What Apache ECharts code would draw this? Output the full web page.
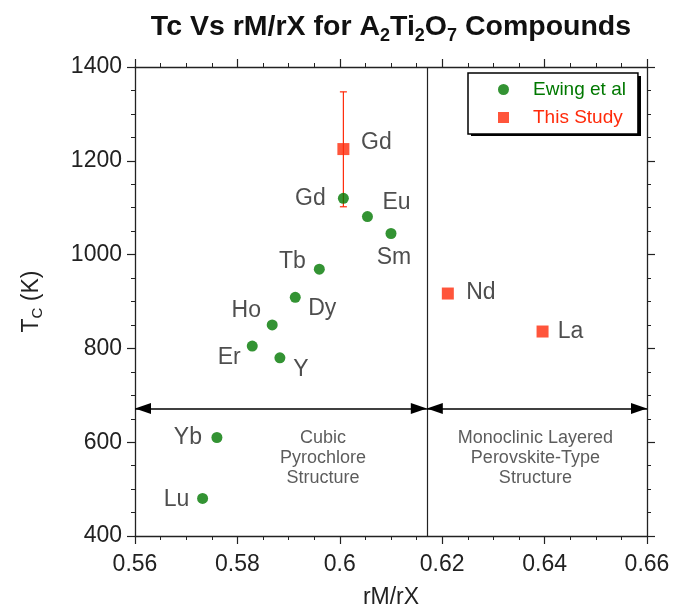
<!DOCTYPE html>
<html>
<head>
<meta charset="utf-8">
<script src="https://cdn.jsdelivr.net/npm/echarts@6/dist/echarts.min.js"></script>
<style>
  html, body { margin: 0; padding: 0; background: #fff; }
  #chart { width: 674px; height: 606px; }
</style>
</head>
<body>
<div id="chart"></div>
<script>
// Ewing et al (green circles)
var ewingNames = ['Gd', 'Eu', 'Sm', 'Tb', 'Dy', 'Ho', 'Er', 'Y', 'Yb', 'Lu'];
var ewingRatio = [0.6007, 0.6054, 0.6100, 0.5960, 0.5913, 0.5868, 0.5829, 0.5883, 0.5760, 0.5732];
var ewingTc = [1120, 1081, 1045, 969, 909, 850, 805, 780, 610, 480];

// This study (red squares)
var studyNames = ['Gd', 'Nd', 'La'];
var studyRatio = [0.6007, 0.6211, 0.6396];
var studyTc = [1225, 917, 836];

// error bar on this study's Gd point
var errRatio = [0.6007];
var errLow = [1102];
var errHigh = [1347];

// phase boundary and the arrow level
var boundaryRatio = 0.617;
var arrowTc = 672;
var xMin = 0.56, xMax = 0.66, xStep = 0.02;
var yMin = 400, yMax = 1400, yStep = 200;

var regionText = ['Cubic\nPyrochlore\nStructure', 'Monoclinic Layered\nPerovskite-Type\nStructure'];
var regionRatio = [0.5967, 0.6382];
var regionTc = [567, 567];

// label offsets (pixels, from point centre to text centre)
var ewingLabelOff = {
  Gd: [-33, 0], Eu: [29, -14], Sm: [3, 24], Tb: [-27, -7], Dy: [27, 11],
  Ho: [-26, -14], Er: [-23, 12], Y: [21, 12], Yb: [-29, 0], Lu: [-26, 1]
};
var studyLabelOff = { Gd: [33, -6], Nd: [33, -1], La: [28, 0] };

var GREEN = '#007800';
var RED = '#ff2a0a';
var FONT = 'Liberation Sans';

var chart = echarts.init(document.getElementById('chart'));

function axisBase(pos, showLabel, isX) {
  return {
    type: 'value',
    position: pos,
    min: isX ? xMin : yMin,
    max: isX ? xMax : yMax,
    interval: isX ? xStep : yStep,
    splitLine: { show: false },
    axisLine: { show: true, onZero: false, lineStyle: { color: '#222', width: 1.3 } },
    axisTick: { show: true, inside: false, length: 8, lineStyle: { color: '#222', width: 1.2 } },
    minorTick: { show: true, splitNumber: 4, length: 4, lineStyle: { color: '#222', width: 1 } },
    axisLabel: {
      show: showLabel, color: '#222', fontFamily: FONT, fontSize: 23,
      margin: isX ? 17 : 13,
      formatter: function (v) { return String(+v.toFixed(4)); }
    }
  };
}

var xBottom = axisBase('bottom', true, true);
xBottom.name = 'rM/rX';
xBottom.nameLocation = 'middle';
xBottom.nameGap = 50;
xBottom.nameTextStyle = { color: '#222', fontFamily: FONT, fontSize: 23 };

var yLeft = axisBase('left', true, false);
yLeft.name = '{a|T}{s|C}{a| (K)}';
yLeft.nameLocation = 'middle';
yLeft.nameRotate = 90;
yLeft.nameGap = 90;
yLeft.nameTextStyle = {
  rich: {
    a: { color: '#222', fontFamily: FONT, fontSize: 23 },
    s: { color: '#222', fontFamily: FONT, fontSize: 15, padding: [12, 0, 0, 0] }
  }
};

var xTop = axisBase('top', false, true);
var yRight = axisBase('right', false, false);

function pts(xs, ys, names, offs) {
  return xs.map(function (x, i) {
    return {
      name: names[i],
      value: [x, ys[i]],
      label: { offset: offs[names[i]] }
    };
  });
}

var option = {
  animation: false,
  backgroundColor: '#fff',
  title: {
    text: '{a|Tc Vs rM/rX for A}{s|2}{a|Ti}{s|2}{a|O}{s|7}{a| Compounds}',
    left: 386,
    top: 4,
    textAlign: 'center',
    textStyle: {
      rich: {
        a: { fontFamily: FONT, fontWeight: 'bold', fontSize: 28.5, color: '#111' },
        s: { fontFamily: FONT, fontWeight: 'bold', fontSize: 18, color: '#111', padding: [18, 0, 0, 0] }
      }
    }
  },
  grid: { left: 135, right: 27, top: 67, bottom: 70, containLabel: false, outerBoundsMode: 'none' },
  graphic: [
    { type: 'rect', z: 3, shape: { x: 471, y: 76, width: 170, height: 60 }, style: { fill: '#000' } }
  ],
  legend: {
    orient: 'vertical',
    left: 468,
    top: 73,
    padding: [7, 12, 7, 30],
    itemGap: 9,
    itemWidth: 11,
    itemHeight: 11,
    backgroundColor: '#fff',
    borderColor: '#000',
    borderWidth: 1.5,
    borderRadius: 0,
    textStyle: { fontFamily: FONT, fontSize: 19, padding: [0, 0, 0, 19] },
    data: [
      { name: 'Ewing et al', icon: 'circle', textStyle: { color: GREEN } },
      { name: 'This Study', icon: 'rect', textStyle: { color: RED } }
    ]
  },
  xAxis: [xBottom, xTop],
  yAxis: [yLeft, yRight],
  series: [
    {
      name: 'boundary',
      type: 'line',
      data: [],
      silent: true,
      markLine: {
        silent: true,
        animation: false,
        label: { show: false },
        lineStyle: { color: '#222', width: 1.2, type: 'solid' },
        symbol: ['none', 'none'],
        data: [
          [{ coord: [boundaryRatio, yMin] }, { coord: [boundaryRatio, yMax] }]
        ]
      }
    },
    {
      name: 'arrows',
      type: 'line',
      data: [],
      silent: true,
      markLine: {
        silent: true,
        animation: false,
        label: { show: false },
        lineStyle: { color: '#000', width: 1.6, type: 'solid' },
        symbol: ['triangle', 'triangle'],
        symbolSize: [11, 16],
        symbolOffset: [[0, 8], [0, 8]],
        data: [
          [{ coord: [xMin, arrowTc] }, { coord: [boundaryRatio, arrowTc] }],
          [{ coord: [boundaryRatio, arrowTc] }, { coord: [xMax, arrowTc] }]
        ]
      }
    },
    {
      name: 'regions',
      type: 'scatter',
      silent: true,
      symbolSize: 0,
      data: regionRatio.map(function (x, i) { return { value: [x, regionTc[i]], text: regionText[i] }; }),
      label: {
        show: true,
        position: 'inside',
        formatter: function (p) { return p.data.text; },
        fontFamily: FONT,
        fontSize: 18,
        lineHeight: 20,
        color: '#333',
        align: 'center'
      }
    },
    {
      name: 'errorbar',
      type: 'custom',
      silent: true,
      z: 1,
      data: errRatio.map(function (x, i) { return [x, errLow[i], errHigh[i]]; }),
      renderItem: function (params, api) {
        var lo = api.coord([api.value(0), api.value(1)]);
        var hi = api.coord([api.value(0), api.value(2)]);
        var cap = 3.5;
        var st = { stroke: RED, lineWidth: 1.2 };
        return {
          type: 'group',
          children: [
            { type: 'line', shape: { x1: lo[0], y1: lo[1], x2: hi[0], y2: hi[1] }, style: st },
            { type: 'line', shape: { x1: lo[0] - cap, y1: lo[1], x2: lo[0] + cap, y2: lo[1] }, style: st },
            { type: 'line', shape: { x1: hi[0] - cap, y1: hi[1], x2: hi[0] + cap, y2: hi[1] }, style: st }
          ]
        };
      }
    },
    {
      name: 'Ewing et al',
      type: 'scatter',
      symbol: 'circle',
      symbolSize: 11,
      z: 3,
      itemStyle: { color: GREEN },
      data: pts(ewingRatio, ewingTc, ewingNames, ewingLabelOff),
      label: {
        show: true,
        position: 'inside',
        formatter: '{b}',
        fontFamily: FONT,
        fontSize: 23,
        color: '#222'
      }
    },
    {
      name: 'This Study',
      type: 'scatter',
      symbol: 'rect',
      symbolSize: 12,
      z: 4,
      itemStyle: { color: RED },
      data: pts(studyRatio, studyTc, studyNames, studyLabelOff),
      label: {
        show: true,
        position: 'inside',
        formatter: '{b}',
        fontFamily: FONT,
        fontSize: 23,
        color: '#222'
      }
    }
  ]
};

chart.setOption(option);
</script>
</body>
</html>
